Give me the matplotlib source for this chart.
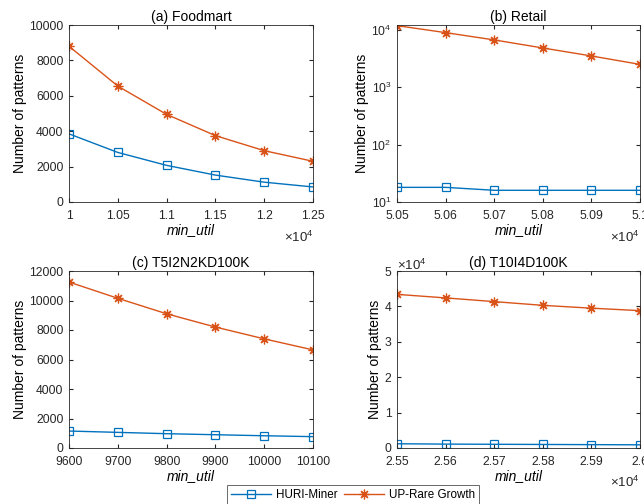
import matplotlib
matplotlib.use("Agg")
import matplotlib.pyplot as plt
from matplotlib.ticker import FuncFormatter, FixedLocator

plt.rcParams["font.family"] = ["Liberation Sans", "DejaVu Sans"]
plt.rcParams["font.size"] = 10
plt.rcParams["mathtext.fontset"] = "custom"
plt.rcParams["mathtext.rm"] = "Liberation Sans"

C_HURI, C_UP = "#0072BD", "#D95319"
C_TXT = "#262626"
LBL_HURI, LBL_UP = "HURI-Miner", "UP-Rare Growth"

# (a) Foodmart
foodmart_x = [10000, 10500, 11000, 11500, 12000, 12500]
foodmart_huri = [3850, 2800, 2070, 1520, 1120, 850]
foodmart_up = [8800, 6550, 4950, 3750, 2900, 2300]

# (b) Retail
retail_x = [50500, 50600, 50700, 50800, 50900, 51000]
retail_huri = [18, 18, 16, 16, 16, 16]
retail_up = [11900, 8980, 6700, 4850, 3520, 2510]

# (c) T5I2N2KD100K
t5_x = [9600, 9700, 9800, 9900, 10000, 10100]
t5_huri = [1150, 1060, 970, 900, 830, 770]
t5_up = [11250, 10150, 9100, 8200, 7400, 6650]

# (d) T10I4D100K
t10_x = [25500, 25600, 25700, 25800, 25900, 26000]
t10_huri = [1200, 1100, 1050, 1000, 950, 900]
t10_up = [43400, 42400, 41350, 40300, 39500, 38800]

W, H = 644, 504
TICK_FS = 8.7
fig = plt.figure(figsize=(W / 100, H / 100), dpi=100)


def box(l, t, r, b):
    return [l / W, 1 - b / H, (r - l) / W, (b - t) / H]


def style(ax, title):
    ax.set_title(title, fontsize=10, pad=3)
    ax.set_ylabel("Number of patterns", fontsize=10, labelpad=1.5)
    ax.set_xlabel("min_util", fontsize=10, style="italic", labelpad=1)
    ax.tick_params(direction="in", top=True, right=True, labelsize=TICK_FS,
                   length=3, color=C_TXT, labelcolor=C_TXT)
    ax.tick_params(axis="x", pad=5.5)
    ax.tick_params(axis="y", pad=4)
    for s in ax.spines.values():
        s.set_color(C_TXT)
        s.set_linewidth(0.6)


def draw(ax, x, huri, up):
    ax.plot(x, huri, color=C_HURI, lw=1, marker="s", ms=6, mfc="none",
            mec=C_HURI, mew=0.9, label=LBL_HURI)
    ax.plot(x, up, color=C_UP, lw=1, marker=(8, 2, 0), ms=7,
            mec=C_UP, mew=0.9, label=LBL_UP)
    ax.set_xlim(x[0], x[-1])
    ax.xaxis.set_major_locator(FixedLocator(x))


def scaled_x(ax, decimals):
    ax.xaxis.set_major_formatter(FuncFormatter(
        lambda v, p: f"{v / 1e4:.{decimals}f}".rstrip("0").rstrip(".")))


def exp_note(px, py):
    fig.text(px / W, 1 - py / H, r"$\times10^{4}$", fontsize=9.5, color=C_TXT, va="center")


ax_a = fig.add_axes(box(69, 25, 313, 202))
draw(ax_a, foodmart_x, foodmart_huri, foodmart_up)
ax_a.set_ylim(0, 10000)
ax_a.set_yticks(range(0, 10001, 2000))
style(ax_a, "(a) Foodmart")
scaled_x(ax_a, 2)
exp_note(284, 237)

ax_b = fig.add_axes(box(397, 25, 640, 202))
draw(ax_b, retail_x, retail_huri, retail_up)
ax_b.set_yscale("log")
ax_b.set_ylim(10, 12200)
ax_b.set_yticks([10, 100, 1000, 10000])
ax_b.minorticks_off()
style(ax_b, "(b) Retail")
scaled_x(ax_b, 3)
exp_note(610, 237)

ax_c = fig.add_axes(box(69, 271, 313, 448))
draw(ax_c, t5_x, t5_huri, t5_up)
ax_c.set_ylim(0, 12000)
ax_c.set_yticks(range(0, 12001, 2000))
style(ax_c, "(c) T5I2N2KD100K")

ax_d = fig.add_axes(box(397, 271, 640, 448))
draw(ax_d, t10_x, t10_huri, t10_up)
ax_d.set_ylim(0, 50000)
ax_d.set_yticks(range(0, 50001, 10000))
ax_d.yaxis.set_major_formatter(FuncFormatter(lambda v, p: f"{v / 1e4:g}"))
style(ax_d, "(d) T10I4D100K")
scaled_x(ax_d, 3)
exp_note(610, 482)
exp_note(397, 265)

handles, labels = ax_a.get_legend_handles_labels()
leg = fig.legend(handles, labels, loc="upper center", bbox_to_anchor=(353 / W, 1 - 485 / H),
                 ncol=2, frameon=True, fancybox=False, fontsize=8.4, handlelength=3.4,
                 columnspacing=0.6, handletextpad=0.4, borderpad=0.35, borderaxespad=0)
leg.get_frame().set_edgecolor(C_TXT)
leg.get_frame().set_linewidth(0.6)

fig.savefig("out.png", dpi=100)
